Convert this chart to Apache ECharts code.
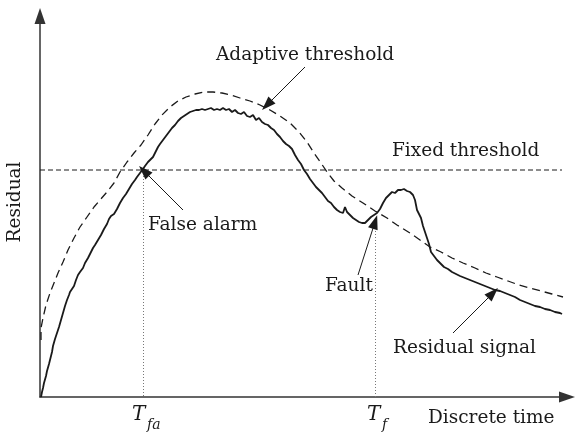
<!DOCTYPE html>
<html>
<head>
<meta charset="utf-8">
<script src="https://cdn.jsdelivr.net/npm/echarts@6/dist/echarts.min.js"></script>
<style>
	html, body { margin: 0; padding: 0; background: #fff; }
	#chart { width: 575px; height: 434px; }
</style>
</head>
<body>
<div id="chart"></div>
<script>
	// residual signal (time step, residual)
	var residualX = [1,2,3,4,6,7,9,10,12,13,15,17,19,21,23,25,27,29,30,32,34,36,38,40,43,45,48,50,53,55,58,61,64,67,69,71,74,77,80,83,86,89,92,95,97,100,103,105,108,110,113,116,118,120,123,126,129,132,135,138,141,144,147,150,153,156,159,162,165,168,171,174,177,180,183,186,189,192,195,198,201,204,207,210,213,216,219,222,225,228,231,234,237,240,243,246,249,252,255,258,261,264,267,270,273,276,279,282,285,288,291,294,297,300,303,305,307,310,313,316,319,322,325,328,331,334,337,340,343,346,349,352,355,358,361,364,367,370,373,375,377,379,381,383,385,387,389,391,394,397,400,404,408,412,416,420,425,430,435,440,445,450,455,460,465,470,475,480,485,490,495,500,505,510,515,520,522];
	var residualY = [0,5,9,14,21,26,33,37,45,51,58,64,70,77,84,91,97,102,105,107,111,117,122,125,129,134,139,143,149,152,157,162,168,173,178,181,183,188,194,199,203,208,213,217,220,224,228,231,235,237,240,246,250,253,257,261,265,269,272,276,279,281,283,285,286,287,287,288,287,288,289,287,288,287,289,287,288,285,287,284,283,285,281,280,282,277,279,275,273,272,269,267,263,260,256,253,251,248,242,237,233,227,223,218,214,210,207,204,200,196,194,190,187,185,184,190,185,182,179,177,175,174,174,177,180,182,184,188,194,199,202,205,204,207,207,208,206,205,202,197,187,183,179,171,165,159,153,145,141,137,134,130,128,125,123,121,119,117,115,113,111,109,107,106,104,102,100,97,95,93,91,90,88,87,85,84,83];

	// adaptive threshold
	var adaptiveX = [1,1,3,6,10,14,18,23,28,34,40,47,54,60,67,74,80,87,94,101,108,115,122,130,138,146,155,164,173,182,191,200,210,220,230,240,250,259,267,274,281,287,294,302,312,323,335,347,357,370,380,390,401,412,423,435,446,457,468,479,490,501,512,523];
	var adaptiveY = [57,69,79,92,104,114,124,135,147,159,170,180,190,197,205,214,225,235,244,252,262,273,282,290,296,300,303,305,305,304,302,299,296,292,287,281,274,265,255,244,234,225,216,209,201,194,186,179,172,164,157,150,145,139,134,129,124,120,116,112,109,106,103,100];

	// fixed threshold
	var fixedX = [0, 522];
	var fixedLevel = 227;

	// false alarm and fault instants
	var tFa = 103;
	var tF = 335;

	// annotation arrows: [tail, head]
	var adaptiveArrow = [[265, 330], [227, 292]];
	var falseAlarmArrow = [[143, 187], [104, 226]];
	var faultArrow = [[318, 122], [335, 175]];
	var residualArrow = [[413, 64], [453, 104]];

	var serif = 'DejaVu Serif';
	var ink = '#1a1a1a';
	var fs = 18.5;

	function pairs(xs, ys) {
		var out = [];
		for (var i = 0; i < xs.length; i++) out.push([xs[i], ys[i]]);
		return out;
	}

	function arrow(a) {
		return [{
			coord: a[0],
			symbol: 'none'
		}, {
			coord: a[1],
			symbol: 'triangle',
			symbolSize: [10, 14]
		}];
	}

	function txt(str, x, y, size, italic) {
		return {
			type: 'text',
			x: x,
			y: y,
			style: {
				text: str,
				fill: ink,
				font: (italic ? 'italic ' : '') + size + 'px "' + serif + '"',
				verticalAlign: 'middle',
				align: 'left'
			}
		};
	}

	var chart = echarts.init(document.getElementById('chart'));
	var option = {
		animation: false,
		backgroundColor: '#fff',
		grid: {
			left: 40,
			right: 8,
			top: 16,
			bottom: 37
		},
		xAxis: {
			type: 'value',
			min: 0,
			max: 527,
			axisLine: {
				show: true,
				symbol: ['none', 'triangle'],
				symbolSize: [11, 16],
				lineStyle: { color: '#333', width: 1.5 }
			},
			axisTick: { show: false },
			axisLabel: { show: false },
			splitLine: { show: false }
		},
		yAxis: {
			type: 'value',
			min: 0,
			max: 381,
			axisLine: {
				show: true,
				symbol: ['none', 'triangle'],
				symbolSize: [11, 16],
				lineStyle: { color: '#333', width: 1.5 }
			},
			axisTick: { show: false },
			axisLabel: { show: false },
			splitLine: { show: false }
		},
		series: [{
			name: 'Fixed threshold',
			type: 'line',
			symbol: 'none',
			data: pairs(fixedX, [fixedLevel, fixedLevel]),
			lineStyle: { color: ink, width: 1, type: [5, 3] },
			markLine: {
				silent: true,
				symbol: 'none',
				label: { show: false },
				lineStyle: { color: '#777', width: 1, type: [1, 2] },
				data: [
					[{ coord: [tFa, fixedLevel] }, { coord: [tFa, 0] }],
					[{ coord: [tF, 175] }, { coord: [tF, 0] }]
				]
			}
		}, {
			name: 'Adaptive threshold',
			type: 'line',
			symbol: 'none',
			data: pairs(adaptiveX, adaptiveY),
			lineStyle: { color: ink, width: 1.3, type: [8, 5] }
		}, {
			name: 'Residual signal',
			type: 'line',
			symbol: 'none',
			data: pairs(residualX, residualY),
			lineStyle: { color: ink, width: 1.8 },
			markLine: {
				silent: true,
				label: { show: false },
				lineStyle: { color: ink, width: 1, type: 'solid' },
				data: [arrow(adaptiveArrow), arrow(falseAlarmArrow), arrow(faultArrow), arrow(residualArrow)]
			}
		}],
		graphic: [
			txt('Adaptive threshold', 216, 55, fs),
			txt('Fixed threshold', 392, 151, fs),
			txt('False alarm', 148, 225, fs),
			txt('Fault', 325, 286, fs),
			txt('Residual signal', 393, 348, fs),
			txt('Discrete time', 428, 418, fs),
			txt('T', 132, 415, 20, true),
			txt('fa', 147, 425, 14, true),
			txt('T', 367, 415, 20, true),
			txt('f', 382, 425, 14, true),
			{
				type: 'text',
				x: 15,
				y: 202,
				rotation: Math.PI / 2,
				style: {
					text: 'Residual',
					fill: ink,
					font: fs + 'px "' + serif + '"',
					align: 'center',
					verticalAlign: 'middle'
				}
			}
		]
	};
	chart.setOption(option);
</script>
</body>
</html>
